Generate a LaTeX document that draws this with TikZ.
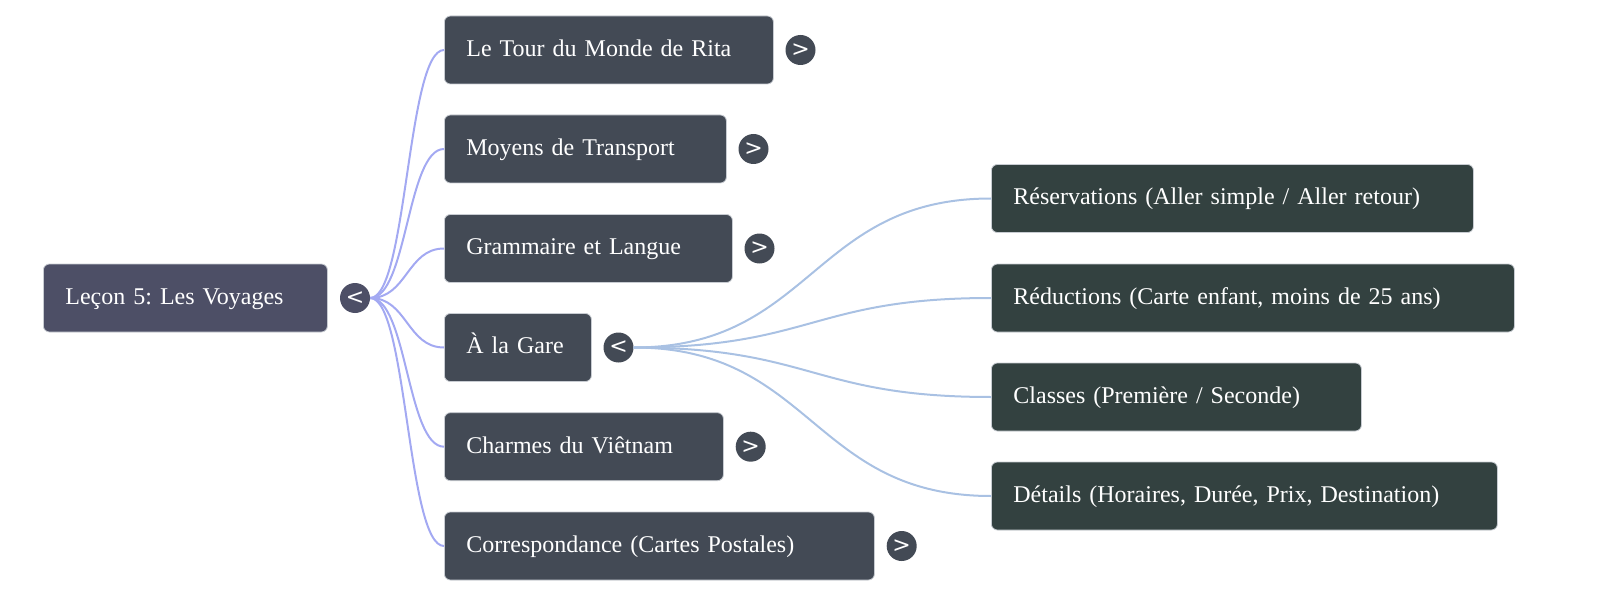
\documentclass[tikz,border=0pt]{standalone}
\usepackage{fontspec}
\setmainfont{Liberation Serif}
\newfontfamily\chevfont{DejaVu Sans}
\usetikzlibrary{calc}
\frenchspacing
\definecolor{rootfill}{HTML}{4D4F66}
\definecolor{lonefill}{HTML}{434A55}
\definecolor{ltwofill}{HTML}{334140}
\definecolor{boxline}{HTML}{C8CCD2}
\definecolor{linkone}{HTML}{A3A9F2}
\definecolor{linktwo}{HTML}{A9C1E3}
\tikzset{
  mbox/.style={rectangle, rounded corners=6pt, draw=boxline, line width=0.8pt,
    minimum height=68pt, inner xsep=22pt, inner ysep=0pt, align=left, anchor=west,
    text=white, font=\fontsize{24}{28}\selectfont\frenchspacing, text height=18pt, text depth=5.4pt},
  rootbox/.style={mbox, fill=rootfill},
  onebox/.style={mbox, fill=lonefill},
  twobox/.style={mbox, fill=ltwofill},
  chev/.style={circle, minimum size=30pt, inner sep=0pt, text=white,
    font=\chevfont\fontsize{22}{22}\selectfont},
  linkA/.style={draw=linkone, line width=2pt},
  linkB/.style={draw=linktwo, line width=2pt},
}
\newcommand{\hlink}[3]{%
  \draw[#1] let \p1=(#2), \p2=(#3) in (#2) .. controls ({(\x1+\x2)/2},\y1) and ({(\x1+\x2)/2},\y2) .. (#3);}
\begin{document}
\begin{tikzpicture}[x=1pt,y=-1pt]
\useasboundingbox (0,0) rectangle (1600,596);
% root
\node[rootbox, text width=240pt] (root) at (43,298) {Leçon 5: Les Voyages};
\node[chev, fill=rootfill] (rootc) at (355,298) {<};
% level 1
\node[onebox, text width=285pt] (a1) at (444,50) {Le Tour du Monde de Rita};
\node[onebox, text width=238pt] (a2) at (444,149) {Moyens de Transport};
\node[onebox, text width=244pt] (a3) at (444,248.5) {Grammaire et Langue};
\node[onebox, text width=103pt] (a4) at (444,347.5) {À la Gare};
\node[onebox, text width=235pt] (a5) at (444,446.7) {Charmes du Viêtnam};
\node[onebox, text width=386pt] (a6) at (444,546) {Correspondance (Cartes Postales)};
\node[chev, fill=lonefill] (c1) at (800.5,50) {>};
\node[chev, fill=lonefill] (c2) at (753.5,149) {>};
\node[chev, fill=lonefill] (c3) at (759.5,248.5) {>};
\node[chev, fill=lonefill] (c4) at (618.5,347.5) {<};
\node[chev, fill=lonefill] (c5) at (750.7,446.7) {>};
\node[chev, fill=lonefill] (c6) at (901.7,546) {>};
% level 2
\node[twobox, text width=438pt] (b1) at (991,198.5) {Réservations (Aller simple / Aller retour)};
\node[twobox, text width=479pt] (b2) at (991,298) {Réductions (Carte enfant, moins de 25 ans)};
\node[twobox, text width=326pt] (b3) at (991,397) {Classes (Première / Seconde)};
\node[twobox, text width=462pt] (b4) at (991,496) {Détails (Horaires, Durée, Prix, Destination)};
% links
\foreach \t in {a1,a2,a3,a4,a5,a6}{\hlink{linkA}{rootc.east}{\t.west}}
\foreach \t in {b1,b2,b3,b4}{\hlink{linkB}{c4.east}{\t.west}}
\end{tikzpicture}
\end{document}
